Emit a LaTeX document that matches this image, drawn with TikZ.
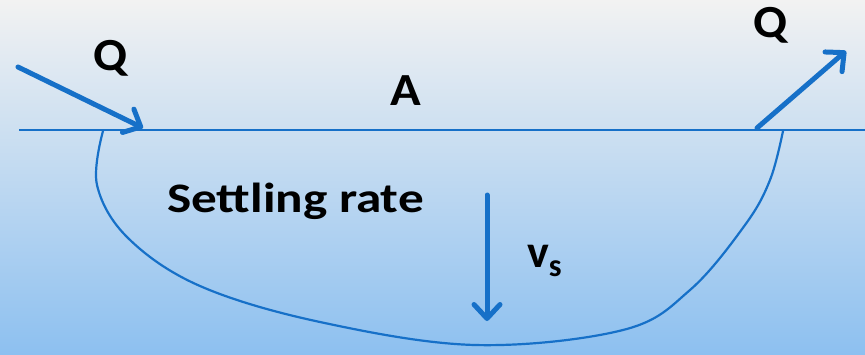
\documentclass[tikz,border=0pt]{standalone}
\usepackage{fontspec}
\setmainfont{Carlito}
\usetikzlibrary{arrows.meta}
\definecolor{lineblue}{RGB}{22,112,200}
\definecolor{topgray}{RGB}{242,242,242}
\definecolor{botblue}{RGB}{141,192,240}
\begin{document}
\begin{tikzpicture}[x=1pt,y=-1pt,
  flow/.style={line width=5pt, draw=lineblue, line cap=round,
    -{Straight Barb[length=14pt,width=26pt,line cap=round,line join=round]}},
  thinline/.style={line width=2.2pt, draw=lineblue},
  lbl/.style={font=\fontsize{46}{50}\selectfont\bfseries, inner sep=0pt, text=black}]
\shade[top color=topgray, bottom color=botblue] (0,0) rectangle (865,354);
\useasboundingbox (0,0) rectangle (865,354);
% surface
\coordinate (surfL) at (19,130);
\coordinate (surfR) at (865,130);
\draw[thinline] (surfL) -- (surfR);
% basin
\draw[thinline] plot[smooth,tension=0.6] coordinates {(103,131) (97,185) (128,238) (200,286) (320,322) (475,345) (623,330) (690,290) (745,225) (770,180) (783,131)};
% arrows
\coordinate (inS) at (18,67);
\coordinate (inE) at (143,128);
\coordinate (outS) at (757,128);
\coordinate (outE) at (846,51);
\coordinate (vsS) at (487,195);
\coordinate (vsE) at (487,321);
\draw[flow] (inS) -- (inE);
\draw[flow] (outS) -- (outE);
\draw[flow] (vsS) -- (vsE);
% labels
\node[lbl, anchor=base west] (qin) at (93,70) {\scalebox{1.08}[1]{Q}};
\node[lbl, anchor=base west] (qout) at (753,37) {\scalebox{1.08}[1]{Q}};
\node[lbl, anchor=base west] (area) at (390,105) {\scalebox{1.1}[1]{A}};
\node[lbl, anchor=base west, font=\fontsize{42}{46}\selectfont\bfseries] (rate) at (167,212) {\scalebox{1.22}[1]{Settling rate}};
\node[lbl, anchor=base west] (vs) at (527,267) {v\raisebox{-9pt}{\fontsize{32}{36}\selectfont s}};
\end{tikzpicture}
\end{document}
